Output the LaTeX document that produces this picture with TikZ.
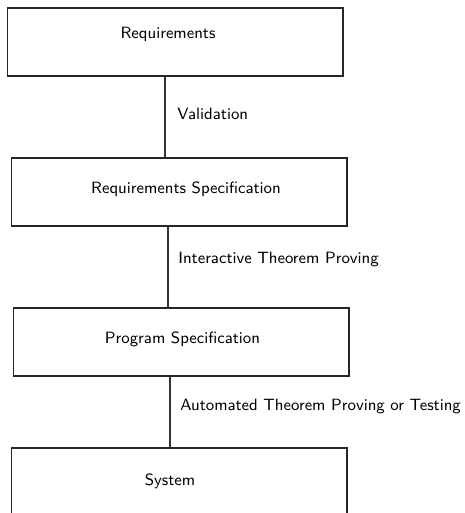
\documentclass[tikz,border=0pt]{standalone}
\usepackage{tikz}
\usetikzlibrary{positioning}

\begin{document}
\begin{tikzpicture}[
  x=0.02cm, y=-0.02cm,
  font=\sffamily\fontsize{9.3}{11}\selectfont,
  box/.style={rectangle, draw=black!85, line width=0.6pt,
              minimum width=6.72cm, minimum height=1.36cm, inner sep=0pt},
  txt/.style={inner sep=0pt},
  lbl/.style={anchor=west, inner sep=0pt},
  conn/.style={draw=black!80, line width=0.6pt}
]
  \clip (0,0) rectangle (464,513);

  % boxes, text placed on its own
  \node[box] (req) at (175,42) {};
  \node[txt] (reqtxt) at (168,34) {Requirements};
  \node[box] (rspec) at (179,192) {};
  \node[txt] (rspectxt) at (186,189) {Requirements Specification};
  \node[box] (pspec) at (181,342) {};
  \node[txt] (pspectxt) at (182.5,339) {Program Specification};
  \node[box] (sys) at (179,482) {};
  \node[txt] (systxt) at (170,481) {System};

  % where the vertical lines run
  \coordinate (v1) at (165,0);
  \coordinate (v2) at (168,0);
  \coordinate (v3) at (170,0);

  \draw[conn] (req.south -| v1) -- (rspec.north -| v1);
  \draw[conn] (rspec.south -| v2) -- (pspec.north -| v2);
  \draw[conn] (pspec.south -| v3) -- (sys.north -| v3);

  \node[lbl] (val) at (177,114) {Validation};
  \node[lbl] (itp) at (178,260) {Interactive Theorem Proving};
  \node[lbl] (atp) at (180,407) {Automated Theorem Proving or Testing};
\end{tikzpicture}
\end{document}
